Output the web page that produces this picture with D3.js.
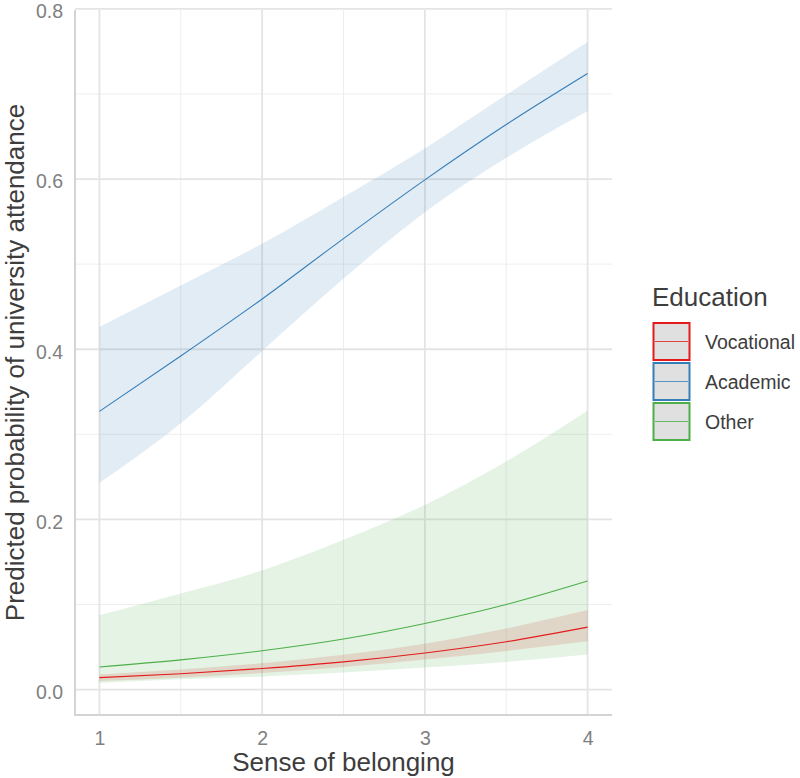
<!DOCTYPE html>
<html>
<head>
<meta charset="utf-8">
<script src="https://cdn.jsdelivr.net/npm/d3@7"></script>
<style>
  html, body { margin: 0; padding: 0; background: #fff; }
  svg { display: block; font-family: "Liberation Sans", Arial, sans-serif; }
</style>
</head>
<body>
<div id="chart"></div>
<script>
// Predicted probabilities by sense of belonging, one series per education track
const belonging = [1, 1.5, 2, 2.5, 3, 3.5, 4]

const vocationalFit  = [0.0141, 0.0187, 0.0248, 0.0326, 0.0430, 0.0562, 0.0734]
const vocationalLow  = [0.0101, 0.0140, 0.0195, 0.0265, 0.0353, 0.0455, 0.0569]
const vocationalHigh = [0.0177, 0.0235, 0.0310, 0.0410, 0.0540, 0.0718, 0.0934]

const academicFit  = [0.327, 0.392, 0.459, 0.530, 0.599, 0.664, 0.724]
const academicLow  = [0.243, 0.313, 0.398, 0.483, 0.561, 0.625, 0.680]
const academicHigh = [0.426, 0.475, 0.524, 0.579, 0.636, 0.699, 0.761]

const otherFit  = [0.0266, 0.0349, 0.0456, 0.0594, 0.0777, 0.1000, 0.1276]
const otherLow  = [0.0078, 0.0121, 0.0155, 0.0200, 0.0259, 0.0325, 0.0412]
const otherHigh = [0.0875, 0.1130, 0.1400, 0.1760, 0.2170, 0.2680, 0.3280]

const groups = ['Vocational', 'Academic', 'Other']
const xTicks = [1, 2, 3, 4]
const xMinor = [1.5, 2.5, 3.5]
const yTicks = [0, 0.2, 0.4, 0.6, 0.8]
const yMinor = [0.1, 0.3, 0.5, 0.7]

const COLORS = {
  'Vocational': '#E41A1C',
  'Academic': '#377EB8',
  'Other': '#4DAF4A',
}

const series = [
  { name: 'Vocational', fit: vocationalFit, low: vocationalLow, high: vocationalHigh },
  { name: 'Academic', fit: academicFit, low: academicLow, high: academicHigh },
  { name: 'Other', fit: otherFit, low: otherLow, high: otherHigh },
].map(s => ({
  name: s.name,
  points: belonging.map((x, i) => ({ x, fit: s.fit[i], low: s.low[i], high: s.high[i] })),
}))

const width = 800
const height = 778
const margin = { top: 10, right: 188, bottom: 63, left: 75 }

// ggplot-like 5% expansion of the data range
const xExt = d3.extent(belonging)
const xPad = (xExt[1] - xExt[0]) * 0.05
const allY = series.flatMap(s => s.points.flatMap(p => [p.low, p.high]))
const yExt = d3.extent(allY)
const yPad = (yExt[1] - yExt[0]) * 0.05

const x = d3.scaleLinear()
  .domain([xExt[0] - xPad, xExt[1] + xPad])
  .range([margin.left, width - margin.right])

const y = d3.scaleLinear()
  .domain([yExt[0] - yPad, yExt[1] + yPad])
  .range([height - margin.bottom, margin.top])

const svg = d3.select('#chart')
  .append('svg')
  .attr('width', width)
  .attr('height', height)

// Gridlines
const grid = svg.append('g').attr('class', 'grid')
grid.selectAll('line.minor-y')
  .data(yMinor)
  .join('line')
  .attr('x1', margin.left).attr('x2', width - margin.right)
  .attr('y1', d => y(d)).attr('y2', d => y(d))
  .attr('stroke', '#eeeeee').attr('stroke-width', 1)
grid.selectAll('line.minor-x')
  .data(xMinor)
  .join('line')
  .attr('y1', margin.top).attr('y2', height - margin.bottom)
  .attr('x1', d => x(d)).attr('x2', d => x(d))
  .attr('stroke', '#eeeeee').attr('stroke-width', 1)
grid.selectAll('line.major-y')
  .data(yTicks)
  .join('line')
  .attr('x1', margin.left).attr('x2', width - margin.right)
  .attr('y1', d => y(d)).attr('y2', d => y(d))
  .attr('stroke', '#e4e4e4').attr('stroke-width', 1.8)
grid.selectAll('line.major-x')
  .data(xTicks)
  .join('line')
  .attr('y1', margin.top).attr('y2', height - margin.bottom)
  .attr('x1', d => x(d)).attr('x2', d => x(d))
  .attr('stroke', '#e4e4e4').attr('stroke-width', 1.8)

// Ribbons
const area = d3.area()
  .x(d => x(d.x))
  .y0(d => y(d.low))
  .y1(d => y(d.high))
  .curve(d3.curveMonotoneX)

svg.append('g').attr('class', 'ribbons')
  .selectAll('path')
  .data(series)
  .join('path')
  .attr('d', d => area(d.points))
  .attr('fill', d => COLORS[d.name])
  .attr('fill-opacity', 0.15)

// Lines
const line = d3.line()
  .x(d => x(d.x))
  .y(d => y(d.fit))
  .curve(d3.curveMonotoneX)

svg.append('g').attr('class', 'lines')
  .selectAll('path')
  .data(series)
  .join('path')
  .attr('d', d => line(d.points))
  .attr('fill', 'none')
  .attr('stroke', d => COLORS[d.name])
  .attr('stroke-width', 1.1)

// Axis lines
svg.append('line')
  .attr('x1', margin.left).attr('x2', margin.left)
  .attr('y1', margin.top).attr('y2', height - margin.bottom + 1)
  .attr('stroke', '#d4d4d4').attr('stroke-width', 2)
svg.append('line')
  .attr('x1', margin.left - 1).attr('x2', width - margin.right)
  .attr('y1', height - margin.bottom).attr('y2', height - margin.bottom)
  .attr('stroke', '#d4d4d4').attr('stroke-width', 2)

// Axes (text only)
svg.append('g')
  .attr('class', 'x-axis')
  .attr('transform', `translate(0,${height - margin.bottom})`)
  .call(d3.axisBottom(x).tickValues(xTicks).tickFormat(d3.format('d')).tickSize(0).tickPadding(16))
  .call(g => {
    g.select('.domain').remove()
    g.selectAll('.tick text')
      .attr('fill', '#808080').attr('font-size', '19.5px')
      .attr('font-family', '"Liberation Sans", Arial, sans-serif')
  })

svg.append('g')
  .attr('class', 'y-axis')
  .attr('transform', `translate(${margin.left},0)`)
  .call(d3.axisLeft(y).tickValues(yTicks).tickFormat(d3.format('.1f')).tickSize(0).tickPadding(12))
  .call(g => {
    g.select('.domain').remove()
    g.selectAll('.tick text')
      .attr('fill', '#808080').attr('font-size', '19.5px')
      .attr('dy', '0.45em')
      .attr('font-family', '"Liberation Sans", Arial, sans-serif')
  })

// Axis titles
svg.append('text')
  .attr('x', (x.range()[0] + x.range()[1]) / 2)
  .attr('y', 771)
  .attr('text-anchor', 'middle')
  .attr('fill', '#3d3d3d').attr('font-size', '26px')
  .text('Sense of belonging')

svg.append('text')
  .attr('transform', `translate(24,${(y.range()[0] + y.range()[1]) / 2}) rotate(-90)`)
  .attr('text-anchor', 'middle')
  .attr('fill', '#3d3d3d').attr('font-size', '26px')
  .text('Predicted probability of university attendance')

// Legend
const legendG = svg.append('g').attr('transform', 'translate(652, 306)')
legendG.append('text')
  .attr('x', 0).attr('y', 0)
  .attr('fill', '#3d3d3d').attr('font-size', '26px')
  .text('Education')

groups.forEach((g, i) => {
  const top = 17 + i * 40
  legendG.append('rect')
    .attr('x', 1.5).attr('y', top)
    .attr('width', 36).attr('height', 37)
    .attr('fill', '#e0e0e0')
    .attr('stroke', COLORS[g]).attr('stroke-width', 2)
  legendG.append('line')
    .attr('x1', 3).attr('x2', 36)
    .attr('y1', top + 18.5).attr('y2', top + 18.5)
    .attr('stroke', COLORS[g]).attr('stroke-width', 1.1).attr('stroke-opacity', 0.8)
  legendG.append('text')
    .attr('x', 53).attr('y', top + 25.5)
    .attr('fill', '#3d3d3d').attr('font-size', '19.5px')
    .text(g)
})
</script>
</body>
</html>
